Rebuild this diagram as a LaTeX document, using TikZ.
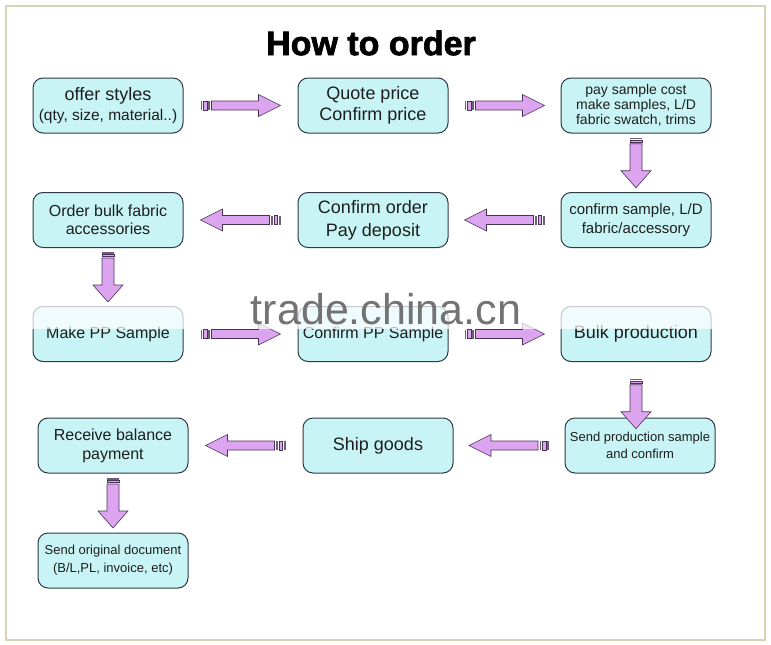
\documentclass[tikz,border=0pt]{standalone}
\usepackage{fontspec}
\setmainfont{Liberation Sans}
\newfontfamily\titlefont[BoldFeatures={FakeBold=2}]{Liberation Sans}
\newfontfamily\wmfont{Liberation Sans}
\definecolor{boxfill}{HTML}{C8F4F6}
\definecolor{boxline}{HTML}{2E3A46}
\definecolor{txt}{HTML}{1E1E1E}
\definecolor{arrfill}{HTML}{DDA4F0}
\definecolor{arrline}{HTML}{4A3358}
\definecolor{frame}{HTML}{D6D3B2}
\tikzset{
  box/.style={draw=boxline, fill=boxfill, rounded corners=10pt, minimum width=150pt,
    minimum height=55pt, line width=1pt, align=center, text=txt, inner sep=1pt},
  hfat/.pic={
    \path[fill=arrfill, draw=arrline, line width=0.6pt]
      (-29,-4.5) -- (18,-4.5) -- (18,-11) -- (40,0) -- (18,11) -- (18,4.5) -- (-29,4.5) -- cycle;
    \path[fill=arrline!80] (-40,-4.5) rectangle (-38.3,4.5);
    \path[fill=arrfill, draw=arrline, line width=0.6pt] (-36.8,-4.5) rectangle (-33.6,4.5);
    \path[fill=arrline!80] (-32.2,-4.5) rectangle (-30.5,4.5);
  },
  vfat/.pic={
    \path[fill=arrfill, draw=arrline, line width=0.6pt]
      (-19,-6) -- (8,-6) -- (8,-15) -- (25,0) -- (8,15) -- (8,6) -- (-19,6) -- cycle;
    \path[fill=arrline!80] (-25,-6) rectangle (-23.3,6);
    \path[fill=arrfill, draw=arrline, line width=0.6pt] (-22.3,-6) rectangle (-20.3,6);
  },
  fatpos/.style={pos=0.5, sloped, allow upside down}
}
\begin{document}
\begin{tikzpicture}[x=1pt,y=-1pt]
\useasboundingbox (0,0) rectangle (771,645);
\fill[white] (0,0) rectangle (771,645);
\draw[frame, line width=1.3pt] (6,6) rectangle (765,640);

\node[text=black, font=\titlefont\bfseries\fontsize{34}{38}\selectfont] (title) at (371,43) {How to order};

% row 1
\node[box, font=\fontsize{18}{21}\selectfont] (A) at (108,105.5) {offer styles\\[-1pt]\fontsize{15.5}{19}\selectfont (qty, size, material..)};
\node[box, font=\fontsize{18}{21.6}\selectfont] (B) at (373,105.5) {Quote price\\Confirm price};
\node[box, font=\fontsize{14}{15}\selectfont] (C) at (636,105.5) {pay sample cost\\make samples, L/D\\fabric swatch, trims};
% row 2
\node[box, font=\fontsize{16}{18}\selectfont] (D) at (108,220) {Order bulk fabric\\accessories};
\node[box, font=\fontsize{18}{23}\selectfont] (E) at (373,220) {Confirm order\\Pay deposit};
\node[box, font=\fontsize{15}{19}\selectfont] (F) at (636,220) {confirm sample, L/D\\fabric/accessory};
% row 3
\node[box, font=\fontsize{16}{19}\selectfont] (G) at (108,334) {Make PP Sample};
\node[box, font=\fontsize{16}{19}\selectfont] (H) at (373,334) {Confirm PP Sample};
\node[box, font=\fontsize{18}{21}\selectfont] (I) at (636,334) {Bulk production};
% row 4
\node[box, font=\fontsize{16}{19}\selectfont] (J) at (113,445.5) {Receive balance\\payment};
\node[box, font=\fontsize{18}{21}\selectfont] (K) at (378,445.5) {Ship goods};
\node[box, font=\fontsize{13}{17}\selectfont] (L) at (640,445.5) {Send production sample\\and confirm};
% row 5
\node[box, font=\fontsize{13}{18}\selectfont] (M) at (113,560.5) {Send original document\\(B/L,PL, invoice, etc)};

% connectors
\path (A) -- (B) pic[fatpos]{hfat};
\path (B) -- (C) pic[fatpos]{hfat};
\path (C) -- (F) pic[fatpos]{vfat};
\path (F) -- (E) pic[fatpos]{hfat};
\path (E) -- (D) pic[fatpos]{hfat};
\path (D) -- (G) pic[fatpos]{vfat};
\path (G) -- (H) pic[fatpos]{hfat};
\path (H) -- (I) pic[fatpos]{hfat};
\path (I) -- (I |- L) pic[fatpos]{vfat};
\path (L) -- (K) pic[fatpos]{hfat};
\path (K) -- (J) pic[fatpos]{hfat};
\path (J) -- (M) pic[fatpos]{vfat};

% watermark band
\fill[white, opacity=0.72] (14,302) rectangle (757,329);
\node[text=black!55, font=\wmfont\fontsize{43}{48}\selectfont] (wm) at (386,309) {trade.china.cn};
\end{tikzpicture}
\end{document}
